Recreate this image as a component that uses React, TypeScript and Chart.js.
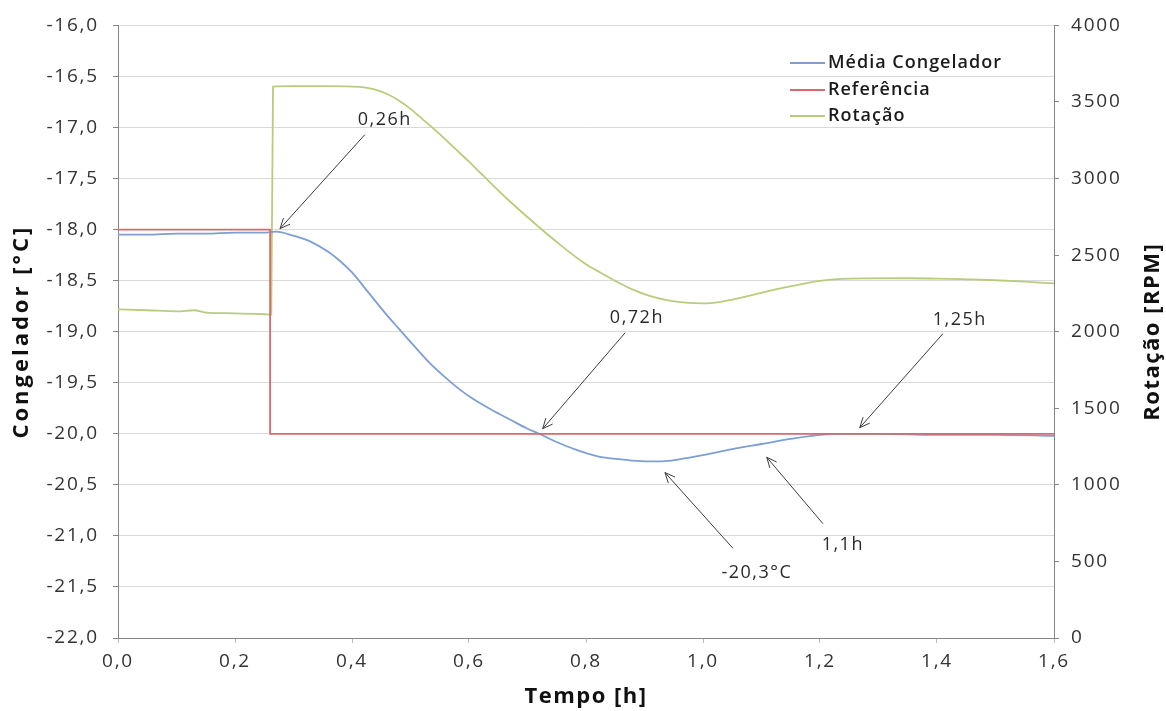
import React, { useEffect, useRef } from 'react';
import { Chart, registerables } from 'chart.js';

Chart.register(...registerables);

// ---- Data ----
const mediaTimes = [0.0, 0.05, 0.1, 0.15, 0.2, 0.25, 0.27, 0.3, 0.33, 0.36, 0.38, 0.4, 0.43, 0.46, 0.48, 0.5, 0.53, 0.56, 0.585, 0.61, 0.64, 0.67, 0.7, 0.72, 0.75, 0.78, 0.82, 0.86, 0.9, 0.93, 0.96, 1.0, 1.05, 1.1, 1.15, 1.2, 1.25, 1.3, 1.4, 1.5, 1.6];
const mediaValues = [-18.05, -18.05, -18.04, -18.04, -18.03, -18.03, -18.02, -18.06, -18.12, -18.22, -18.31, -18.42, -18.63, -18.84, -18.97, -19.1, -19.29, -19.45, -19.57, -19.67, -19.77, -19.86, -19.95, -20.0, -20.08, -20.15, -20.22, -20.25, -20.27, -20.27, -20.25, -20.21, -20.15, -20.1, -20.05, -20.01, -20.0, -20.0, -20.01, -20.01, -20.02];

const refTimes = [0.0, 0.26, 0.26, 1.6];
const refValues = [-18.0, -18.0, -20.0, -20.0];

const rotTimes = [0.0, 0.05, 0.1, 0.13, 0.15, 0.2, 0.25, 0.262, 0.265, 0.3, 0.35, 0.4, 0.42, 0.44, 0.46, 0.48, 0.5, 0.52, 0.55, 0.575, 0.6, 0.62, 0.665, 0.71, 0.755, 0.8, 0.825, 0.85, 0.88, 0.91, 0.94, 0.97, 1.0, 1.03, 1.05, 1.08, 1.11, 1.14, 1.17, 1.2, 1.23, 1.28, 1.35, 1.4, 1.45, 1.5, 1.55, 1.6];
const rotValues = [2146, 2140, 2133, 2140, 2125, 2120, 2114, 2112, 3600, 3603, 3603, 3600, 3595, 3580, 3552, 3510, 3455, 3390, 3290, 3200, 3110, 3035, 2868, 2715, 2570, 2440, 2385, 2332, 2275, 2232, 2205, 2190, 2185, 2195, 2210, 2235, 2263, 2290, 2312, 2332, 2343, 2348, 2349, 2347, 2342, 2336, 2327, 2315];

const seriesNames = ['Média Congelador', 'Referência', 'Rotação'];
const seriesColors = ['#7d9fd4', '#d9696f', '#b9cc7c'];

const xTitle = 'Tempo [h]';
const yLeftTitle = 'Congelador [°C]';
const yRightTitle = 'Rotação [RPM]';

// annotations (data coordinates on time / left axis)
const annLabels = ['0,26h', '0,72h', '1,25h', '-20,3°C', '1,1h'];
const annTipT = [0.277, 0.726, 1.268, 0.935, 1.109];
const annTipV = [-17.99, -19.95, -19.94, -20.38, -20.23];
const annStartT = [0.422, 0.867, 1.41, 1.051, 1.205];
const annStartV = [-17.07, -19.01, -19.02, -21.12, -20.88];
const annTextT = [0.456, 0.887, 1.439, 1.092, 1.239];
const annTextV = [-16.93, -18.86, -18.88, -21.36, -21.09];

const fmt1 = (v: number) => Number(v).toFixed(1).replace('.', ',');
const FONT = "'Open Sans', sans-serif";

const drawPlugin = {
  id: 'customDraw',
  beforeDraw(chart: any) {
    chart.ctx.letterSpacing = '1.8px';
  },
  afterDraw(chart: any) {
    const { ctx, scales } = chart;
    const xs = scales.x;
    const ys = scales.y;
    ctx.save();
    // annotations
    ctx.strokeStyle = '#3c3c3c';
    ctx.fillStyle = '#2a2a2a';
    ctx.lineWidth = 1;
    ctx.font = `18px ${FONT}`;
    ctx.letterSpacing = '1.5px';
    ctx.textAlign = 'center';
    ctx.textBaseline = 'middle';
    for (let i = 0; i < annLabels.length; i++) {
      const sx = xs.getPixelForValue(annStartT[i]);
      const sy = ys.getPixelForValue(annStartV[i]);
      const tx = xs.getPixelForValue(annTipT[i]);
      const ty = ys.getPixelForValue(annTipV[i]);
      ctx.beginPath();
      ctx.moveTo(sx, sy);
      ctx.lineTo(tx, ty);
      const a = Math.atan2(ty - sy, tx - sx);
      const L = 11;
      const w = 0.42;
      ctx.moveTo(tx - L * Math.cos(a - w), ty - L * Math.sin(a - w));
      ctx.lineTo(tx, ty);
      ctx.lineTo(tx - L * Math.cos(a + w), ty - L * Math.sin(a + w));
      ctx.stroke();
      ctx.fillText(annLabels[i], xs.getPixelForValue(annTextT[i]), ys.getPixelForValue(annTextV[i]));
    }
    // legend
    const rows = [63, 90, 116];
    ctx.textAlign = 'left';
    ctx.font = `600 18px ${FONT}`;
    ctx.letterSpacing = '1px';
    ctx.fillStyle = '#1a1a1a';
    for (let i = 0; i < seriesNames.length; i++) {
      ctx.strokeStyle = seriesColors[i];
      ctx.lineWidth = 2;
      ctx.beginPath();
      ctx.moveTo(790, rows[i]);
      ctx.lineTo(825, rows[i]);
      ctx.stroke();
      ctx.fillText(seriesNames[i], 828, rows[i]);
    }
    // axis titles
    ctx.font = `bold 22px ${FONT}`;
    ctx.letterSpacing = '1.5px';
    ctx.fillStyle = '#111';
    ctx.textAlign = 'center';
    const midY = (chart.chartArea.top + chart.chartArea.bottom) / 2;
    ctx.save();
    ctx.translate(22, midY);
    ctx.rotate(-Math.PI / 2);
    ctx.letterSpacing = '3px';
    ctx.fillText(yLeftTitle, 0, 0);
    ctx.restore();
    ctx.save();
    ctx.translate(1153, midY);
    ctx.rotate(-Math.PI / 2);
    ctx.fillText(yRightTitle, 0, 0);
    ctx.restore();
    ctx.fillText(xTitle, (chart.chartArea.left + chart.chartArea.right) / 2, 697);
    ctx.restore();
  },
};

export default function App() {
  const ref = useRef<HTMLCanvasElement | null>(null);
  useEffect(() => {
    if (!ref.current) return;
    const tickFont = { family: FONT, size: 19 };
    const chart = new Chart(ref.current, {
      type: 'line',
      data: {
        datasets: [
          {
            label: seriesNames[0],
            data: mediaTimes.map((t, i) => ({ x: t, y: mediaValues[i] })),
            borderColor: seriesColors[0],
            borderWidth: 1.8,
            pointRadius: 0,
            cubicInterpolationMode: 'monotone',
            yAxisID: 'y',
            order: 1,
          },
          {
            label: seriesNames[1],
            data: refTimes.map((t, i) => ({ x: t, y: refValues[i] })),
            borderColor: seriesColors[1],
            borderWidth: 1.8,
            pointRadius: 0,
            tension: 0,
            yAxisID: 'y',
            order: 0,
          },
          {
            label: seriesNames[2],
            data: rotTimes.map((t, i) => ({ x: t, y: rotValues[i] })),
            borderColor: seriesColors[2],
            borderWidth: 1.8,
            pointRadius: 0,
            cubicInterpolationMode: 'monotone',
            yAxisID: 'y1',
            order: 2,
          },
        ],
      },
      options: {
        animation: false,
        responsive: false,
        devicePixelRatio: 1,
        layout: { padding: { top: 23, left: 0, right: 0, bottom: 0 } },
        plugins: { legend: { display: false }, tooltip: { enabled: false } },
        scales: {
          x: {
            type: 'linear',
            min: 0,
            max: 1.6,
            afterFit: (s: any) => { s.height = 73; },
            border: { color: '#868686', width: 1 },
            grid: { display: true, drawOnChartArea: false, drawTicks: true, tickLength: 5, tickColor: '#bdbdbd' },
            ticks: { stepSize: 0.2, autoSkip: false, maxRotation: 0, padding: 7, color: '#333', font: tickFont, callback: (v: any) => fmt1(v) },
          },
          y: {
            type: 'linear',
            position: 'left',
            min: -22,
            max: -16,
            afterFit: (s: any) => { s.width = 118; },
            border: { color: '#868686', width: 1 },
            grid: { color: '#d9d9d9', lineWidth: 1, tickLength: 5, tickColor: '#868686' },
            ticks: { stepSize: 0.5, padding: 14, color: '#333', font: tickFont, callback: (v: any) => fmt1(v) },
          },
          y1: {
            type: 'linear',
            position: 'right',
            min: 0,
            max: 4000,
            afterFit: (s: any) => { s.width = 112; },
            border: { color: '#868686', width: 1 },
            grid: { drawOnChartArea: false, tickLength: 5, tickColor: '#868686' },
            ticks: { stepSize: 500, padding: 12, color: '#333', font: tickFont, callback: (v: any) => String(v) },
          },
        },
      },
      plugins: [drawPlugin],
    } as any);
    return () => chart.destroy();
  }, []);
  return (
    <div style={{ position: 'fixed', left: 0, top: 0, width: 1166, height: 711, background: '#fff' }}>
      <canvas ref={ref} width={1166} height={711} style={{ display: 'block' }} />
    </div>
  );
}
